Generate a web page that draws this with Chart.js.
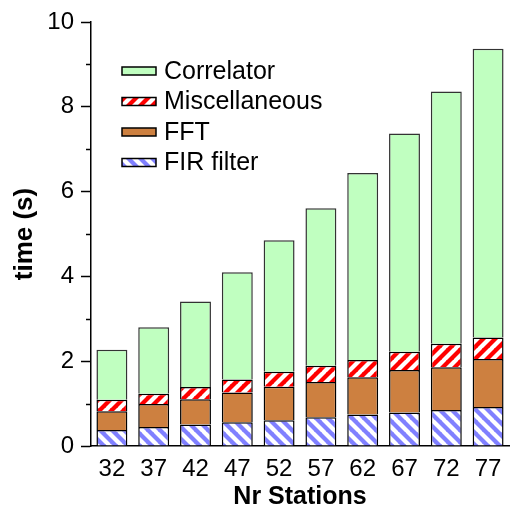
<!DOCTYPE html>
<html>
<head>
<meta charset="utf-8">
<script src="https://cdn.jsdelivr.net/npm/chart.js@4/dist/chart.umd.min.js"></script>
<style>
  html, body { margin: 0; padding: 0; background: #fff; }
  #wrap { width: 514px; height: 512px; }
</style>
</head>
<body>
<div id="wrap"><canvas id="myChart" width="514" height="512"></canvas></div>
<script>
const stations = ["32", "37", "42", "47", "52", "57", "62", "67", "72", "77"];
const firFilter = [0.38, 0.45, 0.51, 0.56, 0.61, 0.68, 0.74, 0.79, 0.85, 0.92];
const fft = [0.44, 0.54, 0.59, 0.70, 0.79, 0.83, 0.88, 1.00, 1.01, 1.13];
const misc = [0.27, 0.24, 0.29, 0.31, 0.35, 0.38, 0.41, 0.43, 0.55, 0.51];
const correlator = [1.18, 1.57, 2.02, 2.53, 3.10, 3.72, 4.41, 5.15, 5.95, 6.81];
const yTicks = [0, 2, 4, 6, 8, 10];
const yMinorTicks = [1, 3, 5, 7, 9];

const FONT = "'Liberation Sans', Arial, sans-serif";

// diagonal stripe pattern, dir 1 = "\" , dir -1 = "/"
function stripes(base, dir) {
  const s = 12;
  const c = document.createElement("canvas");
  c.width = s; c.height = s;
  const g = c.getContext("2d");
  g.fillStyle = base;
  g.fillRect(0, 0, s, s);
  g.strokeStyle = "#ffffff";
  g.lineWidth = 4.2;
  for (let k = -1; k <= 1; k++) {
    g.beginPath();
    if (dir > 0) {
      g.moveTo(k * s - 1, -1);
      g.lineTo(k * s + s + 1, s + 1);
    } else {
      g.moveTo(k * s - 1, s + 1);
      g.lineTo(k * s + s + 1, -1);
    }
    g.stroke();
  }
  return g.createPattern(c, "repeat");
}

const ctx = document.getElementById("myChart").getContext("2d");
const firPattern = stripes("#8080ff", 1);
const miscPattern = stripes("#ff0000", -1);

// minor ticks on the y axis plus the legend inside the plot
const extras = {
  id: "extras",
  afterDraw(chart) {
    const c = chart.ctx;
    const y = chart.scales.y;
    c.save();
    c.strokeStyle = "#000";
    c.lineWidth = 1.5;
    yMinorTicks.forEach(v => {
      const py = Math.round(y.getPixelForValue(v)) + 0.5;
      c.beginPath();
      c.moveTo(y.right - 5, py);
      c.lineTo(y.right, py);
      c.stroke();
    });

    const items = chart.data.datasets.slice().reverse();
    const x0 = 122, y0 = 71, rowH = 30.5;
    c.font = "25px " + FONT;
    c.textBaseline = "middle";
    items.forEach((ds, i) => {
      const cy = y0 + i * rowH;
      c.fillStyle = ds.backgroundColor;
      c.fillRect(x0, cy - 4, 34, 8);
      c.strokeStyle = "#000";
      c.lineWidth = 1.5;
      c.strokeRect(x0, cy - 4, 34, 8);
      c.fillStyle = "#000";
      c.fillText(ds.label, x0 + 42, cy + 1);
    });
    c.restore();
  }
};

new Chart(ctx, {
  type: "bar",
  data: {
    labels: stations,
    datasets: [
      { label: "FIR filter", data: firFilter, backgroundColor: firPattern, borderColor: "#000", borderWidth: 1.5 },
      { label: "FFT", data: fft, backgroundColor: "#cd8040", borderColor: "#000", borderWidth: 1.5 },
      { label: "Miscellaneous", data: misc, backgroundColor: miscPattern, borderColor: "#000", borderWidth: 1.5 },
      { label: "Correlator", data: correlator, backgroundColor: "#c0ffc0", borderColor: "#333", borderWidth: 1.5 }
    ]
  },
  options: {
    responsive: false,
    animation: false,
    barPercentage: 0.74,
    categoryPercentage: 1.0,
    layout: { padding: { top: 22, right: 5, left: 0, bottom: 0 } },
    plugins: {
      legend: { display: false },
      tooltip: { enabled: false }
    },
    scales: {
      x: {
        stacked: true,
        grid: { display: false, drawTicks: false },
        border: { color: "#000", width: 1.5 },
        ticks: { color: "#000", font: { family: FONT, size: 24 }, padding: 9 },
        title: {
          display: true,
          text: "Nr Stations",
          color: "#000",
          font: { family: FONT, size: 25, weight: "bold" },
          padding: { top: 0, bottom: 0 }
        },
        afterFit(scale) { scale.height = 66; }
      },
      y: {
        stacked: true,
        min: 0,
        max: 10,
        afterBuildTicks(scale) { scale.ticks = yTicks.map(v => ({ value: v })); },
        grid: { drawOnChartArea: false, tickLength: 10, tickColor: "#000", tickWidth: 1.5 },
        border: { color: "#000", width: 1.5 },
        ticks: { color: "#000", font: { family: FONT, size: 24 }, padding: 7 },
        title: {
          display: true,
          text: "time (s)",
          color: "#000",
          font: { family: FONT, size: 26, weight: "bold" },
          padding: { top: 9, bottom: 0 }
        },
        afterFit(scale) { scale.width = 91; }
      }
    }
  },
  plugins: [extras]
});
</script>
</body>
</html>
